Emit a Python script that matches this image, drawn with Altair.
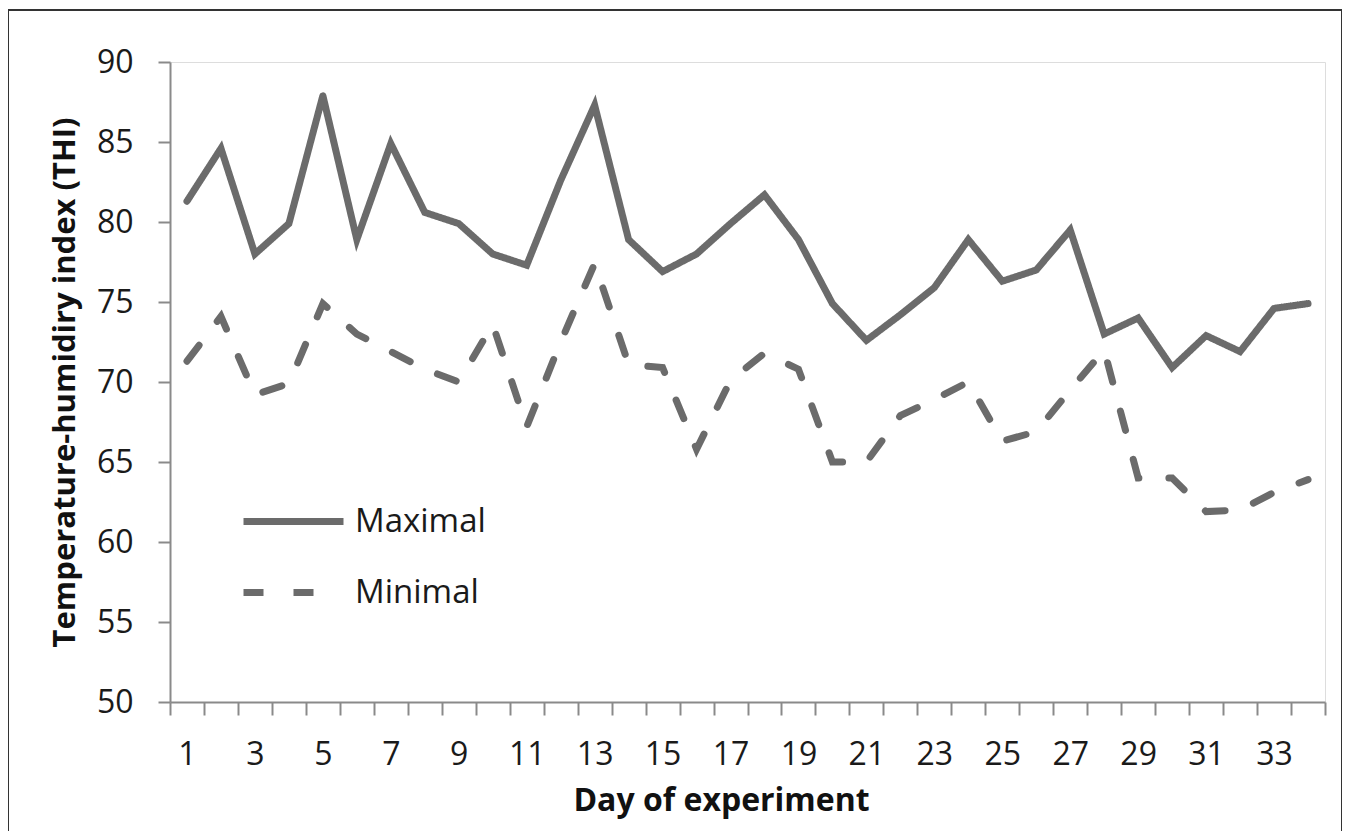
import altair as alt
import pandas as pd

days = list(range(1, 35))
maximal = [81.3, 84.6, 78.0, 79.9, 87.9, 78.9, 84.9, 80.6, 79.9, 78.0, 77.3, 82.6,
           87.3, 78.9, 76.9, 78.0, 79.9, 81.7, 78.9, 74.9, 72.6, 74.2, 75.9, 78.9,
           76.3, 77.0, 79.5, 73.0, 74.0, 70.9, 72.9, 71.9, 74.6, 74.9]
minimal = [71.3, 74.1, 69.2, 69.9, 74.9, 73.0, 71.9, 70.8, 70.0, 73.6, 67.2, 72.5,
           77.4, 71.1, 70.9, 65.8, 70.1, 71.8, 70.8, 65.0, 65.0, 67.9, 68.9, 70.0,
           66.3, 66.9, 69.5, 72.0, 64.0, 64.0, 61.9, 62.0, 63.1, 63.9]
series_names = ["Maximal", "Minimal"]
y_ticks = [50, 55, 60, 65, 70, 75, 80, 85, 90]

df = pd.DataFrame({
    "day": days * 2,
    "thi": maximal + minimal,
    "series": [series_names[0]] * len(days) + [series_names[1]] * len(days),
})

FONT = "Open Sans"
LINE = "#6b6b6b"
AX = "#8a8a8a"
TXT = "#1a1a1a"

lines = alt.Chart(df).mark_line(color=LINE, strokeWidth=7, strokeCap="round").encode(
    x=alt.X("day:O",
            scale=alt.Scale(type="band", paddingInner=0, paddingOuter=0),
            axis=alt.Axis(title="Day of experiment", tickBand="extent",
                          labelExpr="datum.value % 2 == 1 ? datum.label : ''",
                          labelAngle=0, labelOverlap=False, labelFont=FONT,
                          labelFontSize=32, labelColor=TXT, labelPadding=24,
                          tickSize=13, tickWidth=2, tickColor=AX, domainColor=AX,
                          domainWidth=2, titleFont=FONT, titleFontSize=32,
                          titleFontWeight="bold", titleColor="#111",
                          titleBaseline="alphabetic", titleX=551, titleY=108)),
    y=alt.Y("thi:Q",
            scale=alt.Scale(domain=[50, 90], nice=False, zero=False),
            axis=alt.Axis(title="Temperature-humidiry index (THI)", values=y_ticks,
                          grid=False, labelFont=FONT, labelFontSize=32,
                          labelColor=TXT, labelPadding=25, tickSize=12,
                          tickWidth=2, tickColor=AX, domainColor=AX, domainWidth=2,
                          titleFont=FONT, titleFontSize=31, titleFontWeight="bold",
                          titleColor="#111", titleX=-105, titleBaseline="middle")),
    strokeDash=alt.StrokeDash("series:N",
                              scale=alt.Scale(domain=series_names, range=[[1, 0], [20, 30]]),
                              legend=alt.Legend(title=None, orient="none", legendX=70,
                                                legendY=406, symbolType="stroke",
                                                symbolSize=10000, symbolStrokeWidth=7,
                                                symbolStrokeColor=LINE, labelFont=FONT,
                                                labelFontSize=33, labelColor=TXT,
                                                labelOffset=8, rowPadding=-31, padding=0)),
)

frame = alt.Chart(pd.DataFrame({"a": [0]})).mark_rect(
    fill=None, stroke="#333333", strokeWidth=2).encode(
    x=alt.value(-162), x2=alt.value(1172), y=alt.value(-52), y2=alt.value(800))

chart = alt.layer(frame, lines).properties(
    width=1155, height=640,
    autosize=alt.AutoSizeParams(type="none"),
    padding={"left": 162, "top": 54, "right": 17, "bottom": 129},
).configure_view(stroke=None).configure(background="white")

chart.save("out.html", embed_options={"renderer": "svg", "actions": False})
